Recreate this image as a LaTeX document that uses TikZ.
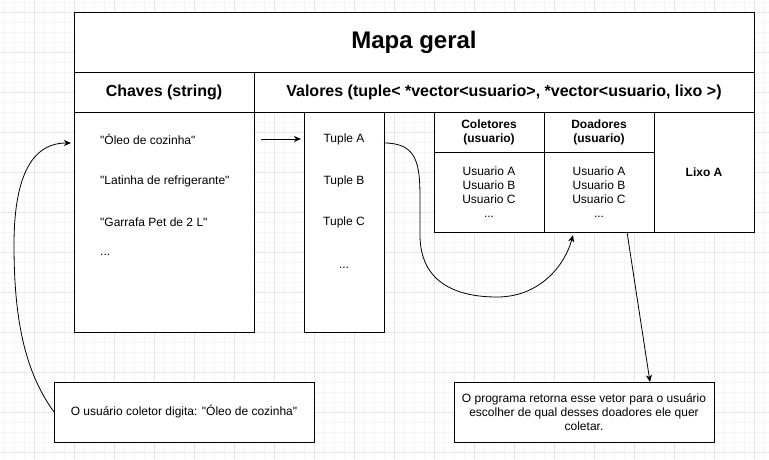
\documentclass[tikz,border=0pt]{standalone}
\usepackage{fontspec}
\setmainfont{Liberation Sans}[Ligatures=TeXOff]
\usepackage{xcolor}
\usetikzlibrary{positioning,arrows.meta}
\definecolor{gridminor}{HTML}{F5F5F5}
\definecolor{gridmajor}{HTML}{E6E6E6}
\tikzset{
  cell/.style={draw,fill=white,line width=1pt,inner sep=0pt,outer sep=0pt,align=center,font=\fontsize{12}{14}\selectfont},
  head/.style={cell,font=\bfseries\fontsize{16}{19}\selectfont},
  subhead/.style={cell,font=\bfseries\fontsize{12}{14}\selectfont},
  txt/.style={inner sep=0pt,align=center,font=\fontsize{12}{14}\selectfont},
  arr/.style={-{Stealth[length=7pt,width=6pt,inset=2pt]},line width=0.8pt}
}

\begin{document}
\begin{tikzpicture}[x=1pt,y=-1pt]
\fill[white] (0,0) rectangle (769,459);
\useasboundingbox (0,0) rectangle (769,459);
% grid
\foreach \x in {4,14,...,764} \draw[gridminor] (\x,0) -- (\x,459);
\foreach \y in {2,12,...,452} \draw[gridminor] (0,\y) -- (769,\y);
\foreach \x in {34,74,...,754} \draw[gridmajor] (\x,0) -- (\x,459);
\foreach \y in {12,52,...,452} \draw[gridmajor] (0,\y) -- (769,\y);

% map table
\node[cell, anchor=north west, minimum width=680pt, minimum height=60pt, font=\bfseries\fontsize{24}{28}\selectfont] (title) at (74,12) {Mapa geral};
\node[head, minimum width=180pt, minimum height=40pt, below right=0pt of title.south west] (chavesh) {Chaves (string)};
\node[head, minimum width=500pt, minimum height=40pt, right=0pt of chavesh] (valh) {Valores (tuple< *vector<usuario>, *vector<usuario, lixo >)};
\node[cell, minimum width=180pt, minimum height=220pt, below=0pt of chavesh] (chavescol) {};
\node[cell, minimum width=80pt, minimum height=220pt, below right=0pt and 50pt of chavesh.south east] (tuplecol) {};
\node[subhead, minimum width=110pt, minimum height=40pt, below right=0pt and 50pt of tuplecol.north east] (colh) {Coletores\\(usuario)};
\node[subhead, minimum width=110pt, minimum height=40pt, right=0pt of colh] (doah) {Doadores\\(usuario)};
\node[subhead, minimum width=100pt, minimum height=120pt, below right=0pt of doah.north east] (lixo) {Lixo A};
\node[cell, minimum width=110pt, minimum height=80pt, below=0pt of colh] (colb) {Usuario A\\Usuario B\\Usuario C\\...};
\node[cell, minimum width=110pt, minimum height=80pt, below=0pt of doah] (doab) {Usuario A\\Usuario B\\Usuario C\\...};

% keys and values
\node[txt, anchor=west] (oleo) at (100,139) {"Óleo de cozinha"};
\node[txt, anchor=west] (latinha) at (100,181) {"Latinha de refrigerante"};
\node[txt, anchor=west] (garrafa) at (100,222) {"Garrafa Pet de 2 L"};
\node[txt, anchor=base west] (keydots) at (100,255) {...};
\node[txt] (tupa) at (344,139) {Tuple A};
\node[txt] (tupb) at (344,181) {Tuple B};
\node[txt] (tupc) at (344,222) {Tuple C};
\node[txt, anchor=base] (tupdots) at (344,268) {...};

% notes
\node[cell, anchor=north west, minimum width=260pt, minimum height=60pt] (msgl) at (54,382) {O usuário coletor digita: "Óleo de cozinha"};
\node[cell, anchor=north west, minimum width=260pt, minimum height=60pt] (msgr) at (454,382) {O programa retorna esse vetor para o usuário\\escolher de qual desses doadores ele quer\\coletar.};

\coordinate (oleoin) at (71,143);
\coordinate (tupout) at (384,143);
\coordinate (doain) at (573,235);

\draw[arr, shorten <=7pt, shorten >=3pt] (chavescol.east |- oleo) -- (tuplecol.west |- oleo);
\draw[arr] (msgl.west) .. controls (25,372) and (14,320) .. (14,245)
  .. controls (14,180) and (30,143) .. (oleoin);
\draw[arr] (tupout) .. controls (418,143) and (420,165) .. (420,200) -- (420,235)
  .. controls (420,285) and (460,297) .. (497,297)
  .. controls (540,297) and (565,265) .. (doain);
\draw[arr] ([xshift=28pt]doab.south) -- ([xshift=66pt]msgr.north);
\end{tikzpicture}
\end{document}
